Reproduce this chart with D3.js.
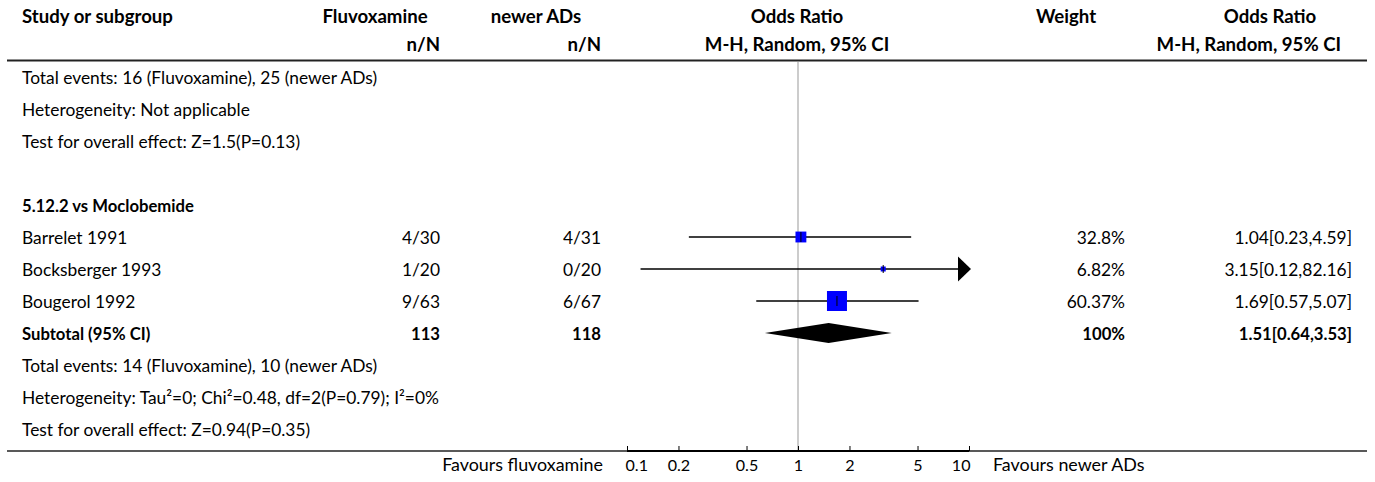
<!DOCTYPE html>
<html>
<head>
<meta charset="utf-8">
<script src="https://cdn.jsdelivr.net/npm/d3@7/dist/d3.min.js"></script>
<style>
  html, body { margin: 0; padding: 0; background: #fff; }
  svg { display: block; }
  text { font-family: "Lato", "Open Sans", sans-serif; fill: #000; }
</style>
</head>
<body>
<svg id="chart" width="1375" height="482"></svg>
<script>
// ---------- data ----------
const headerRow1 = ["Study or subgroup", "Fluvoxamine", "newer ADs", "Odds Ratio", "Weight", "Odds Ratio"];
const headerRow2 = ["n/N", "n/N", "M-H, Random, 95% CI", "M-H, Random, 95% CI"];

const prevSummary = [
  "Total events: 16 (Fluvoxamine), 25 (newer ADs)",
  "Heterogeneity: Not applicable",
  "Test for overall effect: Z=1.5(P=0.13)"
];
const groupTitle = "5.12.2 vs Moclobemide";

const studies = ["Barrelet 1991", "Bocksberger 1993", "Bougerol 1992"];
const fluvoxamineNN = ["4/30", "1/20", "9/63"];
const newerNN = ["4/31", "0/20", "6/67"];
const orEst = [1.04, 3.15, 1.69];
const orLow = [0.23, 0.12, 0.57];
const orHigh = [4.59, 82.16, 5.07];
const weights = [32.8, 6.82, 60.37];
const weightLabels = ["32.8%", "6.82%", "60.37%"];
const ciLabels = ["1.04[0.23,4.59]", "3.15[0.12,82.16]", "1.69[0.57,5.07]"];

const subtotalLabel = "Subtotal (95% CI)";
const subtotalN = ["113", "118"];
const subtotalEst = [1.51];
const subtotalLow = [0.64];
const subtotalHigh = [3.53];
const subtotalWeight = "100%";
const subtotalCI = "1.51[0.64,3.53]";

const groupSummary = [
  "Total events: 14 (Fluvoxamine), 10 (newer ADs)",
  "Heterogeneity: Tau²=0; Chi²=0.48, df=2(P=0.79); I²=0%",
  "Test for overall effect: Z=0.94(P=0.35)"
];

const tickValues = [0.1, 0.2, 0.5, 1, 2, 5, 10];
const favoursLeft = "Favours fluvoxamine";
const favoursRight = "Favours newer ADs";

// ---------- layout ----------
const svg = d3.select("#chart");

// calibrate font sizes so that reference strings have the measured widths
function fit(str, weight, target) {
  const t = svg.append("text").attr("font-size", 100).attr("font-weight", weight).text(str);
  const w = t.node().getComputedTextLength();
  t.remove();
  return 100 * target / w;
}
const FS = fit(groupSummary[1], "normal", 417);
const FSB = fit(groupTitle, "bold", 172);
const FSH = fit(headerRow1[0], "bold", 151);
const FSF = fit(favoursLeft, "normal", 161);
const FST = FSF * 0.9;

const rowKeys = ["te1", "het1", "test1", "blank", "group", "s0", "s1", "s2", "sub", "te2", "het2", "test2"];
const y = d3.scalePoint().domain(rowKeys).range([77, 429]);
const x = d3.scaleLog().domain([0.1, 10]).range([627, 969]);
const sizeScale = d3.scaleLinear().domain([0, 60.37]).range([0, 20]);
const textDY = 6.5;

const colStudy = 22, colFluvR = 440, colNewR = 601, colWeightR = 1125, colCIR = 1352;

function txt(xp, yp, s, anchor, bold, size) {
  return svg.append("text")
    .attr("x", xp).attr("y", yp)
    .attr("text-anchor", anchor || "start")
    .attr("font-weight", bold ? "bold" : "normal")
    .attr("font-size", size || (bold ? FSB : FS))
    .text(s);
}

// header
const h1 = 23, h2 = 51;
txt(colStudy, h1, headerRow1[0], "start", true, FSH);
txt(375, h1, headerRow1[1], "middle", true, FSH);
txt(536, h1, headerRow1[2], "middle", true, FSH);
txt(797, h1, headerRow1[3], "middle", true, FSH);
txt(1066, h1, headerRow1[4], "middle", true, FSH);
txt(1270, h1, headerRow1[5], "middle", true, FSH);
txt(colFluvR, h2, headerRow2[0], "end", true, FSH);
txt(colNewR, h2, headerRow2[1], "end", true, FSH);
txt(797, h2, headerRow2[2], "middle", true, FSH);
txt(1341, h2, headerRow2[3], "end", true, FSH);

svg.append("line").attr("x1", 7).attr("x2", 1367).attr("y1", 60.5).attr("y2", 60.5)
  .attr("stroke", "#222").attr("stroke-width", 2);

// null line
svg.append("line").attr("x1", x(1)).attr("x2", x(1)).attr("y1", 62).attr("y2", 450)
  .attr("stroke", "#999").attr("stroke-width", 1);

// previous summary text
["te1", "het1", "test1"].forEach((k, i) => txt(colStudy, y(k) + textDY, prevSummary[i]));
txt(colStudy, y("group") + textDY, groupTitle, "start", true);

// studies
studies.forEach((s, i) => {
  const k = "s" + i;
  const yy = y(k);
  txt(colStudy, yy + textDY, s);
  txt(colFluvR, yy + textDY, fluvoxamineNN[i], "end");
  txt(colNewR, yy + textDY, newerNN[i], "end");
  txt(colWeightR, yy + textDY, weightLabels[i], "end");
  txt(colCIR, yy + textDY, ciLabels[i], "end");

  const lo = Math.max(orLow[i], 0.1), hi = Math.min(orHigh[i], 10);
  const clippedHi = orHigh[i] > 10;
  svg.append("line").attr("x1", x(lo)).attr("x2", clippedHi ? x(10) - 8 : x(hi))
    .attr("y1", yy).attr("y2", yy).attr("stroke", "#000").attr("stroke-width", 1.5);
  if (clippedHi) {
    const tip = x(10) + 2;
    svg.append("path")
      .attr("d", `M${tip - 13},${yy - 12.5}L${tip},${yy}L${tip - 13},${yy + 12.5}Z`)
      .attr("fill", "#000");
  }
  const side = Math.max(5, sizeScale(weights[i]));
  const cx = x(orEst[i]);
  svg.append("rect").attr("x", cx - side / 2).attr("y", yy - side / 2)
    .attr("width", side).attr("height", side).attr("fill", "#0000ff");
  const th = Math.max(8, Math.min(10, side));
  svg.append("line").attr("x1", cx).attr("x2", cx).attr("y1", yy - th / 2).attr("y2", yy + th / 2)
    .attr("stroke", "#000").attr("stroke-width", 1);
});

// subtotal
const ys = y("sub");
txt(colStudy, ys + textDY, subtotalLabel, "start", true);
txt(colFluvR, ys + textDY, subtotalN[0], "end", true);
txt(colNewR, ys + textDY, subtotalN[1], "end", true);
txt(colWeightR, ys + textDY, subtotalWeight, "end", true);
txt(colCIR, ys + textDY, subtotalCI, "end", true);
svg.append("path")
  .attr("d", `M${x(subtotalLow[0])},${ys}L${x(subtotalEst[0])},${ys - 10}L${x(subtotalHigh[0])},${ys}L${x(subtotalEst[0])},${ys + 10}Z`)
  .attr("fill", "#000");

["te2", "het2", "test2"].forEach((k, i) => txt(colStudy, y(k) + textDY, groupSummary[i]));

// bottom line and axis
svg.append("line").attr("x1", 7).attr("x2", 1367).attr("y1", 451).attr("y2", 451)
  .attr("stroke", "#222").attr("stroke-width", 1.5);
const axisG = svg.append("g").attr("transform", "translate(0,451)");
axisG.call(d3.axisTop(x).tickValues(tickValues).tickSize(5).tickFormat(d3.format("")).tickPadding(0));
axisG.select(".domain").attr("stroke", "#000").attr("stroke-width", 2).attr("d", `M${x(0.1)},0H${x(10)}`);
axisG.selectAll(".tick line").attr("stroke", "#000");
axisG.selectAll(".tick text").remove();
const nT = tickValues.length;
axisG.selectAll(".tick").append("text")
  .attr("y", 20)
  .attr("x", (d, i) => i === 0 ? -2 : (i === nT - 1 ? 1 : 0))
  .attr("text-anchor", (d, i) => i === 0 ? "start" : (i === nT - 1 ? "end" : "middle"))
  .attr("font-size", FST)
  .style("font-family", "Lato, sans-serif").attr("fill", "#000")
  .text(d => d3.format("")(d));

txt(603, 471, favoursLeft, "end", false, FSF);
txt(993, 471, favoursRight, "start", false, FSF);
</script>
</body>
</html>
